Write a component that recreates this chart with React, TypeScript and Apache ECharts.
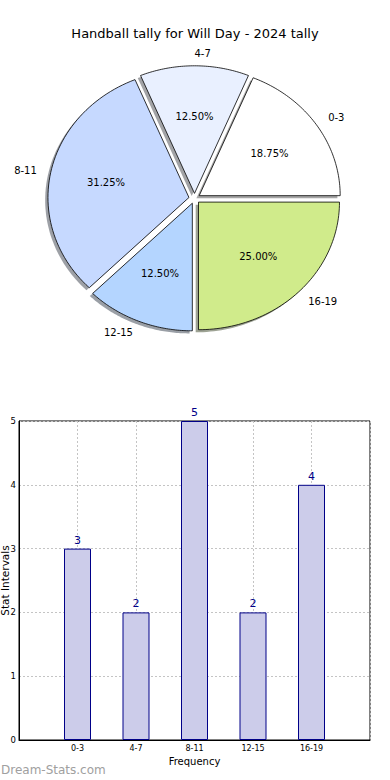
import React, { useEffect, useRef } from "react";
import * as echarts from "echarts";

const chartTitle = "Handball tally for Will Day - 2024 tally";
const categories = ["0-3", "4-7", "8-11", "12-15", "16-19"];
const tallies = [3, 2, 5, 2, 4];
const yTicks = [0, 1, 2, 3, 4, 5];
const sliceColors = ["#ffffff", "#e9f0ff", "#c6d9ff", "#b4d5ff", "#d0eb8b"];

const FONT = "DejaVu Sans";
const PIE = { cx: 194.5, cy: 198.5, rx: 141, ry: 127.6, explode: 0.04 };

function sliceGeom(i: number) {
  const total = tallies.reduce((a, b) => a + b, 0);
  let before = 0;
  for (let k = 0; k < i; k++) before += tallies[k];
  const start = (before / total) * 360;
  const end = ((before + tallies[i]) / total) * 360;
  const mid = ((start + end) / 2) * Math.PI / 180;
  const ox = PIE.cx + PIE.explode * PIE.rx * Math.cos(mid);
  const oy = PIE.cy - PIE.explode * PIE.ry * Math.sin(mid);
  const pts: number[][] = [[ox, oy]];
  const n = 60;
  for (let k = 0; k <= n; k++) {
    const a = (start + ((end - start) * k) / n) * Math.PI / 180;
    pts.push([ox + PIE.rx * Math.cos(a), oy - PIE.ry * Math.sin(a)]);
  }
  return { pts, mid, ox, oy, pct: (tallies[i] / total) * 100 };
}

function shadowColor(hex: string) {
  const r = parseInt(hex.slice(1, 3), 16) * 0.3;
  const g = parseInt(hex.slice(3, 5), 16) * 0.3;
  const b = parseInt(hex.slice(5, 7), 16) * 0.3;
  return `rgba(${Math.round(r)},${Math.round(g)},${Math.round(b)},0.5)`;
}

export default function App() {
  const ref = useRef<HTMLDivElement>(null);
  useEffect(() => {
    document.body.style.margin = "0";
    const chart = echarts.init(ref.current!, null, { renderer: "svg" });
    const option: any = {
      animation: false,
      title: {
        text: chartTitle,
        left: "center",
        top: 22,
        textStyle: { fontSize: 13, fontWeight: "normal", color: "#000", fontFamily: FONT },
      },
      grid: {
        left: 19,
        right: 20,
        top: 421,
        bottom: 40,
        show: true,
        borderColor: "#000",
        borderWidth: 1,
        containLabel: false,
        outerBoundsMode: "none",
      },
      xAxis: {
        type: "value",
        min: 0,
        max: categories.length + 1,
        interval: 1,
        axisLine: { show: true, lineStyle: { color: "#000", width: 1 } },
        axisTick: { show: false },
        axisLabel: {
          fontSize: 8,
          color: "#000",
          margin: 4,
          fontFamily: FONT,
          formatter: (v: number) => categories[v - 1] ?? "",
        },
        splitLine: { show: true, lineStyle: { color: "#c4c4c4", type: [2, 2], width: 1 } },
        name: "Frequency",
        nameLocation: "middle",
        nameGap: 16,
        nameTextStyle: { fontSize: 10, color: "#000", fontFamily: FONT },
      },
      yAxis: {
        type: "value",
        min: yTicks[0],
        max: yTicks[yTicks.length - 1],
        interval: 1,
        axisLine: { show: true, lineStyle: { color: "#000", width: 1 } },
        axisTick: { show: false },
        axisLabel: { fontSize: 8.5, color: "#000", margin: 3, fontFamily: FONT },
        splitLine: { show: true, lineStyle: { color: "#c4c4c4", type: [2, 2], width: 1 } },
      },
      graphic: [
        {
          type: "text",
          left: 1,
          top: 764,
          style: { text: "Dream-Stats.com", fill: "#a0a0a0", fontSize: 12, fontFamily: FONT },
        },
        {
          type: "text",
          x: 5,
          y: 580.5,
          rotation: Math.PI / 2,
          style: {
            text: "Stat Intervals",
            fill: "#000",
            fontSize: 10.5,
            fontFamily: FONT,
            align: "center",
            textAlign: "center",
            verticalAlign: "middle",
            textVerticalAlign: "middle",
          },
        },
      ],
      series: [
        {
          type: "bar",
          data: tallies.map((v, i) => [i + 1, v]),
          barWidth: 27,
          itemStyle: { color: "#ccccea", borderColor: "#000088", borderWidth: 1 },
          label: {
            show: true,
            position: "top",
            distance: 3,
            color: "#000088",
            fontSize: 11,
            fontFamily: FONT,
            formatter: (p: any) => String(p.value[1]),
          },
          silent: true,
        },
        {
          type: "custom",
          coordinateSystem: "none",
          silent: true,
          z: 1,
          data: tallies,
          renderItem: (params: any) => {
            const g = sliceGeom(params.dataIndex);
            return {
              type: "polygon",
              x: -2.8,
              y: 2.6,
              shape: { points: g.pts },
              style: { fill: shadowColor(sliceColors[params.dataIndex]), stroke: null },
            };
          },
        },
        {
          type: "custom",
          coordinateSystem: "none",
          silent: true,
          z: 2,
          data: tallies,
          renderItem: (params: any) => {
            const i = params.dataIndex;
            const g = sliceGeom(i);
            const c = Math.cos(g.mid);
            const s = Math.sin(g.mid);
            const lx = g.ox + 1.1 * PIE.rx * c;
            const ly = g.oy - 1.1 * PIE.ry * s;
            const px = g.ox + 0.6 * PIE.rx * c;
            const py = g.oy - 0.6 * PIE.ry * s;
            const al = c > 0 ? "left" : "right";
            return {
              type: "group",
              children: [
                {
                  type: "polygon",
                  shape: { points: g.pts },
                  style: { fill: sliceColors[i], stroke: "#000", lineWidth: 0.8 },
                },
                {
                  type: "text",
                  x: lx,
                  y: ly,
                  style: {
                    text: categories[i],
                    fill: "#000",
                    fontSize: 10,
                    fontFamily: FONT,
                    align: al,
                    textAlign: al,
                    verticalAlign: "middle",
                    textVerticalAlign: "middle",
                  },
                },
                {
                  type: "text",
                  x: px,
                  y: py,
                  style: {
                    text: g.pct.toFixed(2) + "%",
                    fill: "#000",
                    fontSize: 10,
                    fontFamily: FONT,
                    align: "center",
                    textAlign: "center",
                    verticalAlign: "middle",
                    textVerticalAlign: "middle",
                  },
                },
              ],
            };
          },
        },
      ],
    };
    chart.setOption(option);
    return () => chart.dispose();
  }, []);
  return <div ref={ref} style={{ width: 390, height: 780 }} />;
}
